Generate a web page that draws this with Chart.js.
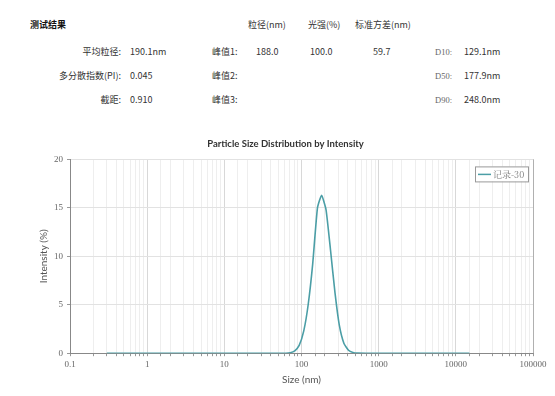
<!DOCTYPE html>
<html>
<head>
<meta charset="utf-8">
<script src="https://cdn.jsdelivr.net/npm/chart.js@4.4.0/dist/chart.umd.min.js"></script>
<style>
  body { margin:0; background:#fff; }
  #page { position:relative; width:555px; height:396px; overflow:hidden;
          font-family:"Noto Sans CJK SC","Noto Sans",sans-serif; font-size:9px; color:#333; }
  .t { position:absolute; line-height:12px; white-space:nowrap; }
  .r { text-align:right; }
  .d { font-family:"Liberation Serif","DejaVu Serif",serif; color:#666; font-size:8.5px; }
  #wrap { position:absolute; left:38px; top:130px; width:517px; height:266px; }
</style>
</head>
<body>
<div id="page">
  <div class="t" style="left:30px;top:19px;font-weight:bold;color:#111;">测试结果</div>
  <div class="t" style="left:248px;top:19px;">粒径(nm)</div>
  <div class="t" style="left:308px;top:19px;">光强(%)</div>
  <div class="t" style="left:355px;top:19px;">标准方差(nm)</div>

  <div class="t r" style="right:434px;top:46px;">平均粒径:</div>
  <div class="t" style="left:130px;top:46px;">190.1nm</div>
  <div class="t" style="left:212px;top:46px;">峰值1:</div>
  <div class="t" style="left:256px;top:46px;">188.0</div>
  <div class="t" style="left:310px;top:46px;">100.0</div>
  <div class="t" style="left:373px;top:46px;">59.7</div>
  <div class="t d" style="left:435px;top:46px;">D10:</div>
  <div class="t" style="left:464px;top:46px;">129.1nm</div>

  <div class="t r" style="right:434px;top:70px;">多分散指数(PI):</div>
  <div class="t" style="left:130px;top:70px;">0.045</div>
  <div class="t" style="left:212px;top:70px;">峰值2:</div>
  <div class="t d" style="left:435px;top:70px;">D50:</div>
  <div class="t" style="left:464px;top:70px;">177.9nm</div>

  <div class="t r" style="right:434px;top:94px;">截距:</div>
  <div class="t" style="left:130px;top:94px;">0.910</div>
  <div class="t" style="left:212px;top:94px;">峰值3:</div>
  <div class="t d" style="left:435px;top:94px;">D90:</div>
  <div class="t" style="left:464px;top:94px;">248.0nm</div>

  <div id="wrap"><canvas id="mycanvas"></canvas></div>
</div>
<script>
// size (nm) and intensity (%)
var sizes = [0.3, 0.5, 1, 2, 5, 10, 20, 40, 62.7, 71.6, 81.8, 93.3, 107, 122, 139.6, 161, 182, 208, 238, 272, 309, 355, 407, 463, 530, 700, 1000, 2000, 5000, 10000, 15000];
var intensity = [0, 0, 0, 0, 0, 0, 0, 0, 0, 0.05, 0.25, 0.8, 2.3, 5.0, 9.2, 15.0, 16.3, 14.8, 10.6, 6.2, 2.9, 1.0, 0.3, 0.08, 0.01, 0, 0, 0, 0, 0, 0];
var seriesName = "记录-30";
var yTicks = [0, 5, 10, 15, 20];

var pts = [];
for (var i in sizes) {
  pts.push({x: sizes[i], y: intensity[i]});
}

function isDecade(v) {
  var l = Math.log10(v);
  return Math.abs(l - Math.round(l)) < 1e-6;
}

var lineColor = "#4b9ea6";

var extras = {
  id: "extras",
  afterDraw: function(chart) {
    var c = chart.ctx, a = chart.chartArea;
    c.save();
    // right border
    c.strokeStyle = "#b0b0b0";
    c.lineWidth = 1;
    c.beginPath();
    c.moveTo(a.right + 0.5, a.top);
    c.lineTo(a.right + 0.5, a.bottom);
    c.stroke();
    // legend box
    var bx = a.right - 58, by = a.top + 7, bw = 53, bh = 15;
    c.fillStyle = "#fff";
    c.fillRect(bx, by, bw, bh);
    c.strokeStyle = "#999";
    c.strokeRect(bx + 0.5, by + 0.5, bw, bh);
    c.strokeStyle = lineColor;
    c.lineWidth = 1.5;
    c.beginPath();
    c.moveTo(bx + 3, by + bh / 2 + 0.5);
    c.lineTo(bx + 16, by + bh / 2 + 0.5);
    c.stroke();
    c.fillStyle = "#777";
    c.font = "9px 'Noto Serif CJK SC','Noto Sans CJK SC',serif";
    c.textBaseline = "middle";
    c.fillText(seriesName, bx + 18, by + bh / 2 + 1);
    c.restore();
  }
};

var ctx = document.getElementById("mycanvas");
var LineGraph = new Chart(ctx, {
  type: "scatter",
  data: {
    datasets: [{
      label: seriesName,
      data: pts,
      showLine: true,
      borderColor: lineColor,
      backgroundColor: lineColor,
      borderWidth: 1.6,
      pointRadius: 0,
      tension: 0.15
    }]
  },
  options: {
    responsive: true,
    maintainAspectRatio: false,
    animation: false,
    layout: { padding: { left: 0, right: 22, top: 0, bottom: 10 } },
    plugins: {
      legend: { display: false },
      tooltip: { enabled: false },
      title: {
        display: true,
        text: "Particle Size Distribution by Intensity",
        color: "#333",
        font: { family: "Lato", size: 9.5, weight: "bold" },
        padding: { top: 8, bottom: 10 }
      }
    },
    scales: {
      x: {
        type: "logarithmic",
        min: 0.1,
        max: 100000,
        border: { color: "#888", width: 1 },
        grid: {
          color: function(c) { return isDecade(c.tick.value) ? "#d8d8d8" : "#eeeeee"; },
          tickColor: "#999",
          tickLength: 3
        },
        ticks: {
          autoSkip: false,
          maxRotation: 0,
          padding: 3,
          color: "#666",
          font: { family: "Liberation Serif", size: 9 },
          callback: function(v) {
            if (!isDecade(v)) return "";
            return String(Math.pow(10, Math.round(Math.log10(v))));
          }
        },
        title: {
          display: true,
          text: "Size (nm)",
          color: "#555",
          font: { family: "Lato", size: 10 },
          padding: { top: 1, bottom: 0 }
        }
      },
      y: {
        min: 0,
        max: 20,
        afterBuildTicks: function(s) { s.ticks = yTicks.map(function(v) { return {value: v}; }); },
        afterFit: function(s) { s.width = 32; },
        border: { color: "#888", width: 1 },
        grid: { color: "#e2e2e2", tickColor: "#999", tickLength: 3 },
        ticks: {
          padding: 4,
          color: "#666",
          font: { family: "Liberation Serif", size: 9 }
        },
        title: {
          display: true,
          text: "Intensity (%)",
          color: "#555",
          font: { family: "Lato", size: 10 },
          padding: { top: 0, bottom: 0 }
        }
      }
    }
  },
  plugins: [extras]
});
</script>
</body>
</html>
